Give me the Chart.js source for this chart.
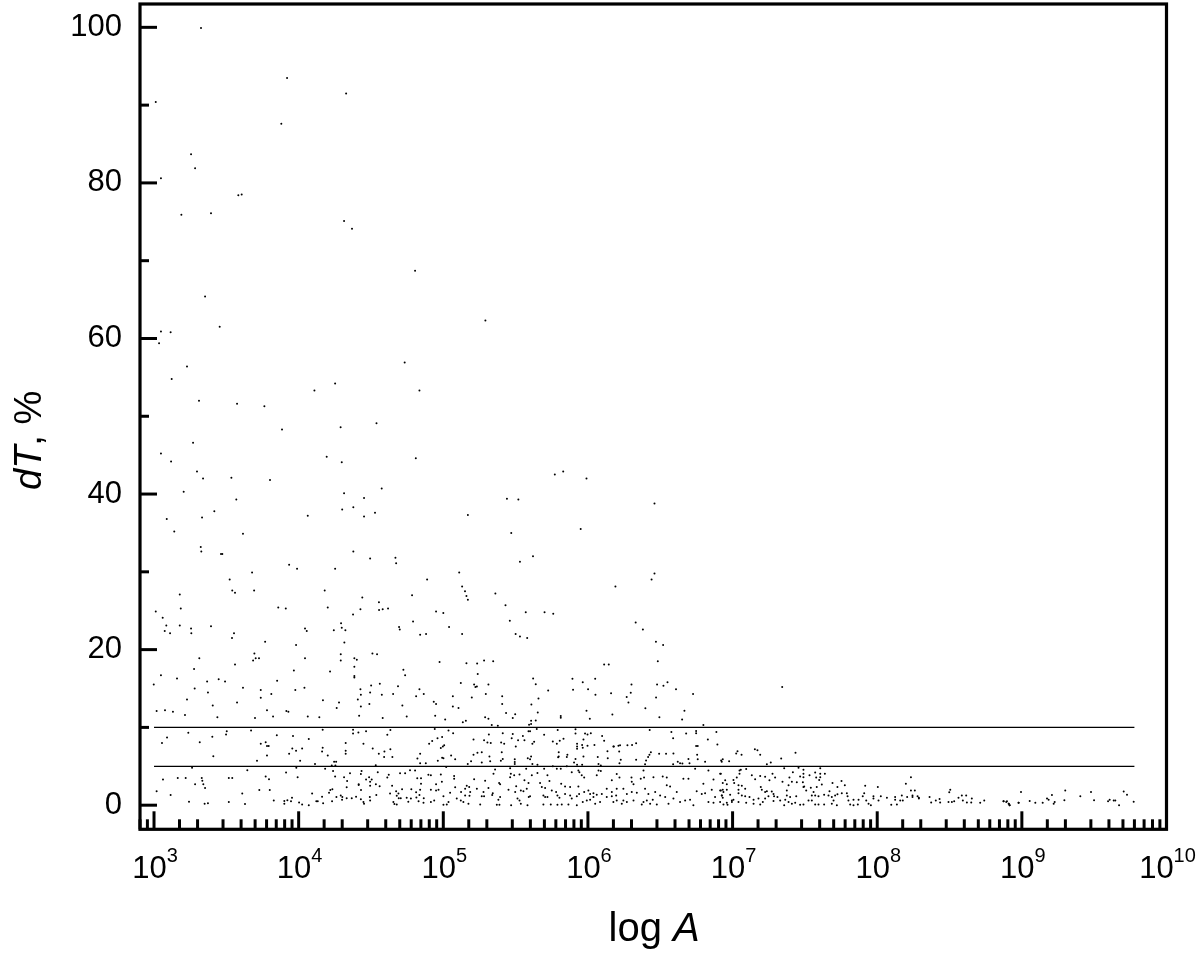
<!DOCTYPE html>
<html>
<head>
<meta charset="utf-8">
<style>html,body{margin:0;padding:0;background:#fff}canvas{display:block}</style>
<script src="https://cdn.jsdelivr.net/npm/chart.js@4"></script>
</head>
<body>
<canvas id="scatter" width="1200" height="953"></canvas>
<script>
// every point is [log10 A, dT %]
const above40 = [[3.325,99.9],[3.92,93.5],[4.328,91.5],[3.012,90.4],[3.88,87.6],[3.256,83.7],[3.284,81.9],[3.048,80.6],[3.583,78.4],[3.606,78.5],[3.189,75.9],[3.394,76.1],[4.314,75.1],[4.369,74.1],[4.805,68.7],[3.353,65.4],[3.048,60.9],[3.115,60.8],[3.454,61.5],[3.035,59.4],[3.228,56.4],[3.122,54.8],[4.733,56.9],[3.311,52.0],[3.574,51.6],[3.763,51.3],[4.109,53.3],[4.252,54.2],[4.835,53.3],[3.885,48.3],[4.29,48.6],[4.538,49.1],[3.27,46.6],[3.048,45.2],[3.118,44.2],[4.194,44.8],[4.298,44.1],[4.81,44.6],[3.297,42.9],[3.339,42.0],[3.535,42.1],[3.802,41.8],[3.205,40.3],[4.314,40.1],[4.574,40.7],[5.291,62.3],[5.829,42.9],[5.771,42.5],[5.99,42.0]];
const from20to40 = [[3.569,39.3],[4.452,39.5],[5.519,39.3],[3.088,36.8],[3.332,37.0],[3.417,37.8],[3.14,35.2],[3.615,34.9],[4.063,37.2],[4.301,38.0],[4.378,38.3],[4.452,37.1],[4.528,37.6],[3.323,33.2],[3.327,32.6],[3.463,32.3],[3.472,32.3],[4.378,32.6],[4.494,31.7],[4.669,31.8],[4.674,31.1],[3.934,30.9],[3.989,30.4],[4.252,30.4],[3.678,29.9],[3.523,29.0],[3.541,27.6],[3.56,27.3],[3.692,27.6],[4.888,29.0],[4.18,27.6],[3.178,27.1],[4.784,27.0],[4.44,26.7],[4.555,26.1],[3.185,25.3],[3.859,25.4],[3.911,25.3],[4.201,25.4],[4.427,25.2],[4.556,25.1],[4.581,25.2],[4.618,25.3],[4.376,24.5],[3.012,24.9],[3.06,24.1],[3.085,23.1],[3.178,23.1],[3.074,22.4],[3.111,22.1],[3.256,22.7],[3.258,22.1],[3.394,23.0],[3.553,22.1],[3.539,21.5],[3.768,21.0],[4.791,23.6],[4.293,23.4],[4.298,22.8],[4.323,22.5],[4.243,22.5],[4.044,22.7],[4.056,22.4],[4.694,22.9],[4.699,22.6],[4.84,21.9],[4.881,22.0],[4.316,20.9],[3.982,20.6],
[5.11,29.9],[5.13,28.1],[5.15,27.5],[5.16,26.9],[5.17,26.4],[5.0,24.7],[5.04,22.9],[5.13,22.0],[4.95,24.9],[5.17,37.3],[5.62,32.0],[5.47,35.0],[5.53,31.3],[5.36,27.2],[5.43,25.7],[5.46,23.7],[5.5,22.0],[5.57,24.8],[5.7,24.8],[5.76,24.6],[5.44,39.4],[5.53,21.7],[5.58,21.5],[6.19,28.1],[6.33,23.5],[6.38,22.6],[6.44,29.0],[6.46,29.8],[6.47,21.0],[6.52,20.6],[6.46,38.8],[5.95,35.5]];
const from10to20 = [[3.694,19.5],[3.703,18.9],[3.726,18.9],[3.685,18.6],[3.313,18.9],[3.56,18.1],[3.277,17.5],[4.044,18.9],[4.291,19.4],[4.291,18.6],[4.385,18.9],[4.402,18.7],[4.51,19.5],[4.542,19.4],[4.385,17.8],[3.967,17.3],[4.217,17.2],[4.724,17.4],[4.736,16.7],[3.048,16.7],[3.159,16.3],[4.385,16.6],[4.385,16.4],[2.998,15.5],[3.367,15.9],[3.447,16.2],[3.491,15.9],[3.851,16.0],[4.561,15.6],[4.501,15.4],[4.687,15.3],[3.615,15.1],[3.281,15.0],[3.373,14.5],[3.738,14.8],[3.738,13.8],[3.811,14.3],[3.977,14.8],[4.04,15.1],[4.427,14.9],[4.43,14.2],[4.494,14.5],[4.575,14.2],[4.653,14.3],[4.835,14.9],[4.865,14.3],[4.812,14.0],[3.228,13.6],[4.409,13.6],[4.168,13.5],[3.574,13.2],[4.279,13.2],[4.489,13.0],[3.406,12.8],[4.43,12.7],[4.717,12.8],[4.263,12.5],[3.018,12.1],[3.076,12.2],[3.131,12.0],[3.781,12.2],[3.915,12.1],[3.929,12.0],[3.214,11.6],[3.438,11.3],[3.698,11.2],[3.823,11.4],[4.063,11.4],[4.143,11.3],[4.418,11.5],[4.581,11.2],[4.747,11.4],
[4.974,18.4],[5.16,18.26],[5.234,18.2],[5.282,18.6],[5.345,18.5],[6.112,18.1],[6.144,18.1],[6.483,18.5],[5.238,16.85],[5.121,15.7],[5.621,16.3],[5.639,15.55],[5.213,15.5],[5.222,15.2],[5.232,15.25],[5.312,15.5],[5.893,16.25],[5.964,15.8],[6.05,16.25],[6.001,14.9],[5.897,14.85],[5.725,14.75],[6.301,15.5],[6.478,15.5],[6.522,15.35],[6.55,15.8],[6.609,14.9],[6.052,14.2],[6.16,14.4],[6.296,14.45],[6.268,13.9],[6.727,14.3],[5.294,14.3],[5.066,14.0],[5.197,13.85],[5.407,14.0],[5.407,13.0],[5.658,13.7],[5.609,12.95],[6.471,13.85],[6.28,13.2],[4.934,13.3],[4.95,13.0],[5.066,12.7],[5.105,12.5],[6.397,12.45],[5.99,12.15],[6.667,12.15],[4.944,11.5],[5.434,11.85],[5.497,11.7],[5.48,11.2],[5.653,11.9],[6.169,11.65],[5.812,11.45],[5.812,11.25],[5.289,11.3],[5.312,11.1],[5.013,11.0],[5.135,10.65],[5.156,10.85],[5.335,10.3],[5.377,10.2],[5.607,10.85],[5.639,10.9],[5.593,10.35],[5.607,10.45],[6.013,11.1],[6.494,11.3],[6.651,11.0],[6.798,10.3],[7.343,15.2]];
const from5to10 = [[3.237,9.3],[3.09,8.7],[3.055,8.0],[3.403,8.8],[3.503,9.5],[3.498,9.1],[3.316,8.1],[3.41,6.3],[3.671,9.6],[3.849,9.0],[3.961,8.9],[4.07,8.5],[3.738,7.9],[3.772,8.1],[3.781,7.6],[3.793,7.6],[3.781,6.4],[3.956,7.3],[4.024,7.3],[3.982,7.0],[3.934,6.6],[4.166,9.7],[4.166,7.4],[4.162,6.9],[4.201,6.4],[4.325,8.0],[4.325,7.0],[4.325,6.6],[4.376,9.7],[4.376,9.2],[4.413,9.35],[4.466,9.5],[4.613,9.05],[4.634,9.65],[4.448,7.9],[4.512,7.3],[4.554,6.6],[4.593,6.9],[4.591,6.2],[4.634,7.2],[4.648,6.2],[4.01,5.7],[3.712,5.7],[4.113,5.3],[4.229,5.1],[4.245,5.6],[4.259,5.6],[4.254,5.1],[4.533,5.15],[4.821,6.0],[4.84,6.6],[4.84,5.4],[4.879,5.4],[4.902,7.9],
[4.941,9.8],[5.036,9.6],[5.068,9.25],[4.923,8.25],[4.96,8.6],[4.992,8.75],[5.209,8.45],[5.282,8.35],[5.305,8.05],[5.328,8.0],[5.315,9.1],[5.411,9.25],[5.4,8.05],[5.421,7.9],[5.48,9.15],[5.473,8.6],[5.517,8.35],[5.55,8.9],[5.561,8.35],[5.501,7.55],[5.6,9.5],[5.589,9.5],[5.646,9.8],[5.628,8.15],[5.616,7.9],[5.697,9.05],[5.791,9.65],[5.757,8.2],[5.785,7.9],[5.805,8.3],[5.831,8.55],[5.914,9.75],[5.914,9.2],[5.98,9.2],[5.997,9.1],[6.02,9.25],[5.969,8.45],[5.925,7.9],[5.925,7.55],[5.925,7.25],[5.96,7.75],[5.964,7.4],[5.997,7.65],[6.045,7.75],[6.098,8.9],[6.112,8.3],[6.179,7.55],[6.211,7.65],[6.222,7.7],[6.273,7.7],[6.305,7.75],[6.333,7.95],[6.427,9.65],[6.577,9.4],[6.589,8.6],[6.679,9.2],[6.748,9.55],[6.748,9.25],[6.829,8.45],[6.888,9.4],[6.895,7.8],[6.748,7.6],[6.759,7.6],
[4.997,7.55],[5.006,7.7],[4.983,7.35],[5.054,6.4],[5.082,5.9],[4.992,6.1],[5.001,6.05],[4.962,5.7],[5.209,6.5],[5.236,6.75],[5.266,6.8],[5.192,5.65],[5.169,5.3],[5.266,5.5],[5.319,6.25],[5.324,5.65],[5.411,5.95],[5.398,5.7],[5.404,6.8],[5.494,5.9],[5.494,5.55],[5.494,5.3],[5.584,6.05],[5.607,6.25],[5.6,5.9],[5.616,5.3],[5.651,5.2],[5.798,6.8],[5.798,6.25],[5.858,6.5],[5.854,6.2],[5.914,5.95],[5.794,6.15],[5.969,6.25],[5.904,5.5],[5.925,5.2],[5.96,5.2],[6.135,6.95],[6.137,6.05],[6.176,7.55],[6.068,6.2],[6.073,5.3],[6.089,5.1],[6.216,6.9],[6.227,5.85],[6.218,5.4],[6.333,5.85],[6.435,6.8],[6.425,6.5],[6.416,6.2],[6.402,5.75],[6.395,5.25],[6.492,6.6],[6.54,6.6],[6.591,6.65],[6.621,5.6],[6.637,5.4],[6.653,5.35],[6.695,5.95],[6.702,5.4],[6.589,5.25],[6.755,6.5],[6.759,5.9],[6.81,5.6],[6.932,5.9],[6.925,5.6],
[6.921,5.75],[6.976,5.65],[7.025,6.65],[7.034,6.95],[7.062,6.5],[7.154,7.2],[7.172,7.05],[7.191,6.5],[7.237,5.25],[7.264,5.5],[7.336,6.0],[7.435,6.75]];
const below5Left = [[3.263,4.8],[3.645,4.5],[3.913,4.2],[3.984,4.8],[4.183,4.7],[4.238,4.4],[4.252,3.7],[3.772,3.7],[3.795,3.35],[3.062,3.3],[3.164,3.5],[3.219,3.5],[3.33,3.5],[3.334,3.15],[3.341,2.7],[3.353,2.2],[3.284,2.7],[3.517,3.5],[3.541,3.5],[3.993,3.6],[3.018,1.8],[3.115,1.3],[3.242,0.45],[3.35,0.2],[3.373,0.25],[3.517,0.4],[3.61,1.5],[3.629,0.15],[3.728,1.95],[3.8,1.95],[3.828,0.6],[3.901,0.55],[3.901,0.2],[3.922,0.65],[3.947,0.5],[3.954,0.95],[4.003,0.35],[4.024,0.1],[4.07,0.0],[4.093,1.5],[4.122,0.5],[4.132,0.5],[4.162,1.1],[4.169,0.25],[4.21,1.6],[4.219,1.95],[4.233,2.05],[4.231,0.5],[4.261,1.05],[4.291,1.25],[4.302,1.05],[4.3,0.7],[4.332,0.9],[4.367,0.9],[4.397,1.1],[4.335,3.1],[4.332,2.3],[4.314,3.6],[4.355,4.1],[4.435,4.4],[4.43,4.0],[4.466,3.3],[4.487,3.6],[4.505,3.3],[4.494,3.0],[4.494,2.5],[4.415,2.7],[4.415,2.6],[4.431,1.95],[4.534,2.7],[4.56,2.45],[4.547,4.25],[4.613,3.55],[4.623,3.9],[4.701,4.1],[4.736,4.1],[4.77,4.5],[4.805,4.45],[4.82,3.45],[4.846,3.45],[4.846,2.75],[4.84,2.0],[4.897,3.9],[4.43,0.75],[4.448,0.4],[4.452,0.2],[4.492,1.05],[4.494,0.6],[4.537,1.3],[4.632,1.5],[4.646,2.5],[4.674,1.8],[4.69,1.5],[4.715,2.05],[4.678,1.2],[4.692,0.9],[4.706,0.9],[4.655,0.4],[4.662,0.15],[4.678,0.1],[4.747,0.95],[4.758,0.45],[4.776,0.85],[4.779,2.05],[4.812,1.65],[4.835,1.3],[4.814,1.0],[4.829,0.5],[4.865,0.9],[4.863,0.3]];
const below5Mid = [[4.914,3.85],[4.983,3.95],[5.075,3.75],[5.075,3.4],[4.99,3.0],[4.95,2.7],[4.914,2.0],[4.95,1.9],[5.02,4.9],[5.213,3.35],[5.162,2.5],[5.179,2.35],[5.151,2.1],[5.082,2.3],[5.047,1.6],[5.001,1.15],[4.967,2.0],[5.123,1.7],[5.186,1.7],[5.151,1.25],[5.181,1.2],[5.093,0.85],[5.121,0.6],[5.139,0.4],[5.174,0.2],[4.937,0.6],[4.914,0.4],[5.001,0.05],[5.024,0.1],[5.036,0.4],[5.289,3.15],[5.232,2.1],[5.312,2.2],[5.278,1.7],[5.266,1.15],[5.282,1.15],[5.255,0.1],[5.358,4.6],[5.347,4.05],[5.386,2.85],[5.393,2.7],[5.342,1.55],[5.338,1.3],[5.381,0.7],[5.393,1.05],[5.37,0.05],[5.388,0.05],[5.462,4.75],[5.467,4.05],[5.462,3.6],[5.49,3.85],[5.527,3.95],[5.469,0.0],[5.451,2.0],[5.497,1.7],[5.504,2.45],[5.536,1.9],[5.561,3.2],[5.589,2.85],[5.577,2.1],[5.513,0.85],[5.527,0.6],[5.536,0.2],[5.582,0.0],[5.554,1.8],[5.591,1.05],[5.6,1.15],[5.573,4.7],[5.612,3.85],[5.651,4.15],[5.669,2.85],[5.681,2.35],[5.704,2.2],[5.72,3.85],[5.734,3.1],[5.697,4.7],[5.757,5.0],[5.785,4.7],[5.812,4.7],[5.854,5.0],[5.888,4.25],[5.941,4.25],[5.934,4.45],[5.957,3.85],[5.974,3.55],[6.061,3.85],[6.073,4.45],[6.089,4.4],[6.165,3.2],[6.199,4.0],[6.218,3.55],[5.692,1.25],[5.704,1.05],[5.72,1.05],[5.75,1.9],[5.78,1.7],[5.815,2.75],[5.842,2.4],[5.877,2.35],[5.934,2.4],[5.789,1.25],[5.803,0.95],[5.842,1.45],[5.877,1.25],[5.888,0.85],[5.923,1.15],[5.939,1.45],[5.974,1.7],[5.692,0.1],[5.743,0.1],[5.789,0.05],[5.819,0.1],[5.865,0.1],[5.923,0.0],[5.964,0.4],[5.992,0.6],[6.003,1.9],[6.015,1.45],[6.038,1.55],[6.061,1.35],[6.096,1.45],[6.13,2.1],[6.165,1.7],[6.199,2.1],[6.245,2.1],[6.015,0.7],[6.038,1.05],[6.05,0.2],[6.084,0.4],[6.13,1.05],[6.165,1.15],[6.195,1.25],[6.199,0.6],[6.176,0.4],[6.245,0.6],[6.269,1.45],[6.303,1.7],[6.338,1.6],[6.303,3.0],[6.315,2.7],[6.301,3.55],[6.365,3.4],[6.384,4.45],[6.388,3.55],[6.269,0.4],[6.234,0.2],[6.315,0.6],[6.372,0.1],[6.384,0.4],[6.407,0.6],[6.43,0.2],[6.448,0.7],[6.476,0.1],[6.395,2.1],[6.418,1.45],[6.453,3.6],[6.465,1.7],[6.499,1.25],[6.545,2.55],[6.568,2.4],[6.517,3.7],[6.545,3.55],[6.557,0.2],[6.534,1.05],[6.591,0.85],[6.614,1.7],[6.637,0.4],[6.672,0.6],[6.706,0.7],[6.695,3.4],[6.66,3.4],[6.752,1.8],[6.787,1.45],[6.81,1.55],[6.741,4.7],[6.729,0.0],[6.798,2.75],[6.868,3.3],[6.833,4.45],[6.856,2.0],[6.914,1.9],[6.937,1.7],[6.879,1.05],[6.925,1.25],[6.914,0.4],[6.96,0.3],[6.868,0.3],[6.833,0.4],[6.914,4.05],[6.96,2.7]];
const below5Right = [[7.357,4.75],[7.49,4.55],[7.456,4.8],[7.606,4.75],[7.048,4.45],[7.057,4.55],[7.094,4.65],[7.048,4.05],[6.919,4.05],[7.029,3.55],[7.006,3.25],[6.949,3.2],[6.932,2.85],[7.011,2.85],[7.133,3.85],[7.156,3.35],[7.191,3.75],[7.225,3.65],[7.255,3.2],[7.276,4.05],[7.294,3.55],[7.345,3.0],[7.417,4.25],[7.393,3.55],[7.41,3.0],[7.444,2.95],[7.467,3.7],[7.49,4.05],[7.49,3.6],[7.532,3.85],[7.571,4.2],[7.606,4.05],[7.638,4.05],[7.578,3.55],[7.606,3.6],[7.599,3.25],[7.486,2.95],[7.49,2.35],[7.387,2.55],[7.041,2.55],[7.064,2.5],[7.087,2.1],[6.919,1.9],[6.96,2.0],[6.932,2.0],[7.041,2.0],[7.041,1.55],[7.195,2.35],[7.202,2.0],[7.237,1.8],[7.225,1.7],[7.271,1.75],[7.375,1.9],[7.283,1.45],[6.983,1.35],[6.926,1.25],[6.932,0.95],[7.006,0.7],[6.995,0.6],[7.064,1.25],[7.087,1.15],[7.117,1.05],[7.145,0.7],[6.937,0.1],[6.965,0.05],[6.995,0.4],[7.041,0.4],[7.094,0.3],[7.145,0.2],[7.191,0.1],[7.209,0.4],[7.179,0.85],[7.225,0.85],[7.248,1.15],[7.287,1.15],[7.31,1.05],[7.329,0.6],[7.283,0.55],[7.357,0.0],[7.387,0.4],[7.41,0.2],[7.433,0.3],[7.375,1.25],[7.398,1.05],[7.44,1.15],[7.364,0.7],[7.467,0.05],[7.49,0.1],[7.525,0.6],[7.548,0.6],[7.571,0.1],[7.594,0.1],[7.633,0.1],[7.495,2.4],[7.509,1.9],[7.541,2.25],[7.56,1.7],[7.548,1.25],[7.571,1.25],[7.594,1.15],[7.617,2.65],[7.582,2.35],[7.633,1.35],[7.663,1.25],[7.686,1.05],[7.709,1.25],[7.725,1.4],[7.698,0.6],[7.721,0.0],[7.686,0.2],[7.67,1.8],[7.691,2.85],[7.725,2.35],[7.753,3.1],[7.776,2.55],[7.755,1.55],[7.79,1.55],[7.795,1.15],[7.801,0.6],[7.813,0.1],[7.836,0.7],[7.871,0.7],[7.866,0.1],[7.836,0.0],[7.91,1.55],[7.9,1.15],[7.917,2.5],[7.924,0.6],[7.94,0.2],[7.956,0.0],[7.974,1.15],[7.974,0.85],[8.004,2.35],[8.009,0.6],[8.025,1.15],[8.067,0.95],[8.097,0.05],[8.124,1.05],[8.124,0.7],[8.136,0.1],[8.159,0.6],[8.17,1.25],[8.177,0.6],[8.198,2.75],[8.207,1.05],[8.233,3.6],[8.233,1.9],[8.26,1.9],[8.244,1.25],[8.244,1.05],[8.279,1.15],[8.288,0.95],[8.288,0.85],[8.362,1.05],[8.373,0.35],[8.405,0.6],[8.431,0.8],[8.435,0.35],[8.505,2.0],[8.498,1.65],[8.493,0.4],[8.516,0.4],[8.532,0.5],[8.562,0.95],[8.585,1.25],[8.615,1.25],[8.592,0.6],[8.62,0.35],[8.654,0.85],[8.65,0.35],[8.712,0.3],[8.74,0.6],[8.873,0.5],[8.892,0.4],[8.91,0.2],[8.915,0.0],[8.977,0.3],
[8.874,0.5],[8.897,0.5],[8.909,0.2],[8.916,0.0],[8.978,0.3],[8.994,1.7],[9.054,0.55],[9.093,0.3],[9.144,0.3],[9.174,0.85],[9.185,0.7],[9.208,1.3],[9.22,0.2],[9.227,0.4],[9.294,0.65],[9.3,1.9],[9.404,1.15],[9.478,1.7],[9.499,0.65],[9.596,0.5],[9.607,0.7],[9.635,0.6],[9.646,0.6],[9.672,0.0],[9.704,1.75],[9.727,1.35],[9.773,0.45]];

const allPoints = [above40, from20to40, from10to20, from5to10, below5Left, below5Mid, below5Right];
const thresholds = [10, 5];
const lineEnds = [1e3, 6e9];
const xDecades = [3, 4, 5, 6, 7, 8, 9, 10];
const yLabels = [0, 20, 40, 60, 80, 100];

const fontName = '"Liberation Sans", Arial, sans-serif';

// inward tick marks, frame, superscript x labels and the two axis titles
const frame = {
    id: 'frame',
    afterDraw(chart) {
        const c = chart.ctx, a = chart.chartArea;
        const xs = chart.scales.x, ys = chart.scales.y;
        c.save();
        c.strokeStyle = '#000';
        c.fillStyle = '#000';
        c.lineWidth = 3;
        xs.ticks.forEach(t => {
            const px = xs.getPixelForValue(t.value);
            const isMajor = xDecades.some(d => Math.abs(Math.log10(t.value) - d) < 1e-6);
            c.beginPath();
            c.moveTo(px, a.bottom);
            c.lineTo(px, a.bottom - (isMajor ? 18 : 10));
            c.stroke();
        });
        ys.ticks.forEach(t => {
            const py = ys.getPixelForValue(t.value);
            c.beginPath();
            c.moveTo(a.left, py);
            c.lineTo(a.left + (t.value % 20 === 0 ? 17 : 9), py);
            c.stroke();
        });
        c.lineWidth = 3.2;
        c.strokeRect(a.left, a.top, a.right - a.left, a.bottom - a.top);

        c.textBaseline = 'alphabetic';
        c.textAlign = 'left';
        xDecades.forEach(d => {
            const px = xs.getPixelForValue(Math.pow(10, d));
            const exp = String(d);
            c.font = '31px ' + fontName;
            const w1 = c.measureText('10').width;
            c.font = '20px ' + fontName;
            const w2 = c.measureText(exp).width;
            const left = px - (w1 + w2) / 2 + 1;
            c.font = '31px ' + fontName;
            c.fillText('10', left, 878);
            c.font = '20px ' + fontName;
            c.fillText(exp, left + w1, 862);
        });

        // bottom title
        c.font = '40px ' + fontName;
        c.fillText('log ', 608.5, 941);
        const w = c.measureText('log ').width;
        c.font = 'italic 40px ' + fontName;
        c.fillText('A', 608.5 + w, 941);

        // left title
        c.translate(41, 490);
        c.rotate(-Math.PI / 2);
        c.font = 'italic 38px ' + fontName;
        c.fillText('dT', 0, 0);
        const w3 = c.measureText('dT').width;
        c.font = '38px ' + fontName;
        c.fillText(', %', w3, 0);
        c.restore();
    }
};

const pointSets = allPoints.map(set => ({
    data: set.map(p => ({ x: Math.pow(10, p[0]), y: p[1] })),
    backgroundColor: '#000',
    borderWidth: 0,
    pointRadius: 1,
    showLine: false
}));

const lineSets = thresholds.map(v => ({
    data: lineEnds.map(x => ({ x: x, y: v })),
    borderColor: '#000',
    borderWidth: 1.3,
    pointRadius: 0,
    showLine: true
}));

new Chart(document.getElementById('scatter').getContext('2d'), {
    type: 'scatter',
    data: { datasets: pointSets.concat(lineSets) },
    options: {
        responsive: false,
        animation: false,
        devicePixelRatio: 1,
        layout: { padding: { top: 2.7, right: 33.5, left: 0, bottom: 0 } },
        plugins: { legend: { display: false }, tooltip: { enabled: false }, title: { display: false } },
        scales: {
            x: {
                type: 'logarithmic',
                min: 800,
                max: 1e10,
                grid: { display: false, drawTicks: false },
                border: { display: false },
                ticks: { display: false },
                afterFit(s) { s.height = 123.7; s.paddingLeft = 0; s.paddingRight = 0; }
            },
            y: {
                type: 'linear',
                min: -3.1,
                max: 103,
                grid: { display: false, drawTicks: false },
                border: { display: false },
                ticks: {
                    stepSize: 10,
                    includeBounds: false,
                    padding: 18,
                    color: '#000',
                    font: { family: fontName, size: 31 },
                    callback: v => yLabels.includes(v) ? String(v) : ''
                },
                afterFit(s) { s.width = 140; s.paddingTop = 0; s.paddingBottom = 0; }
            }
        }
    },
    plugins: [frame]
});
</script>
</body>
</html>
